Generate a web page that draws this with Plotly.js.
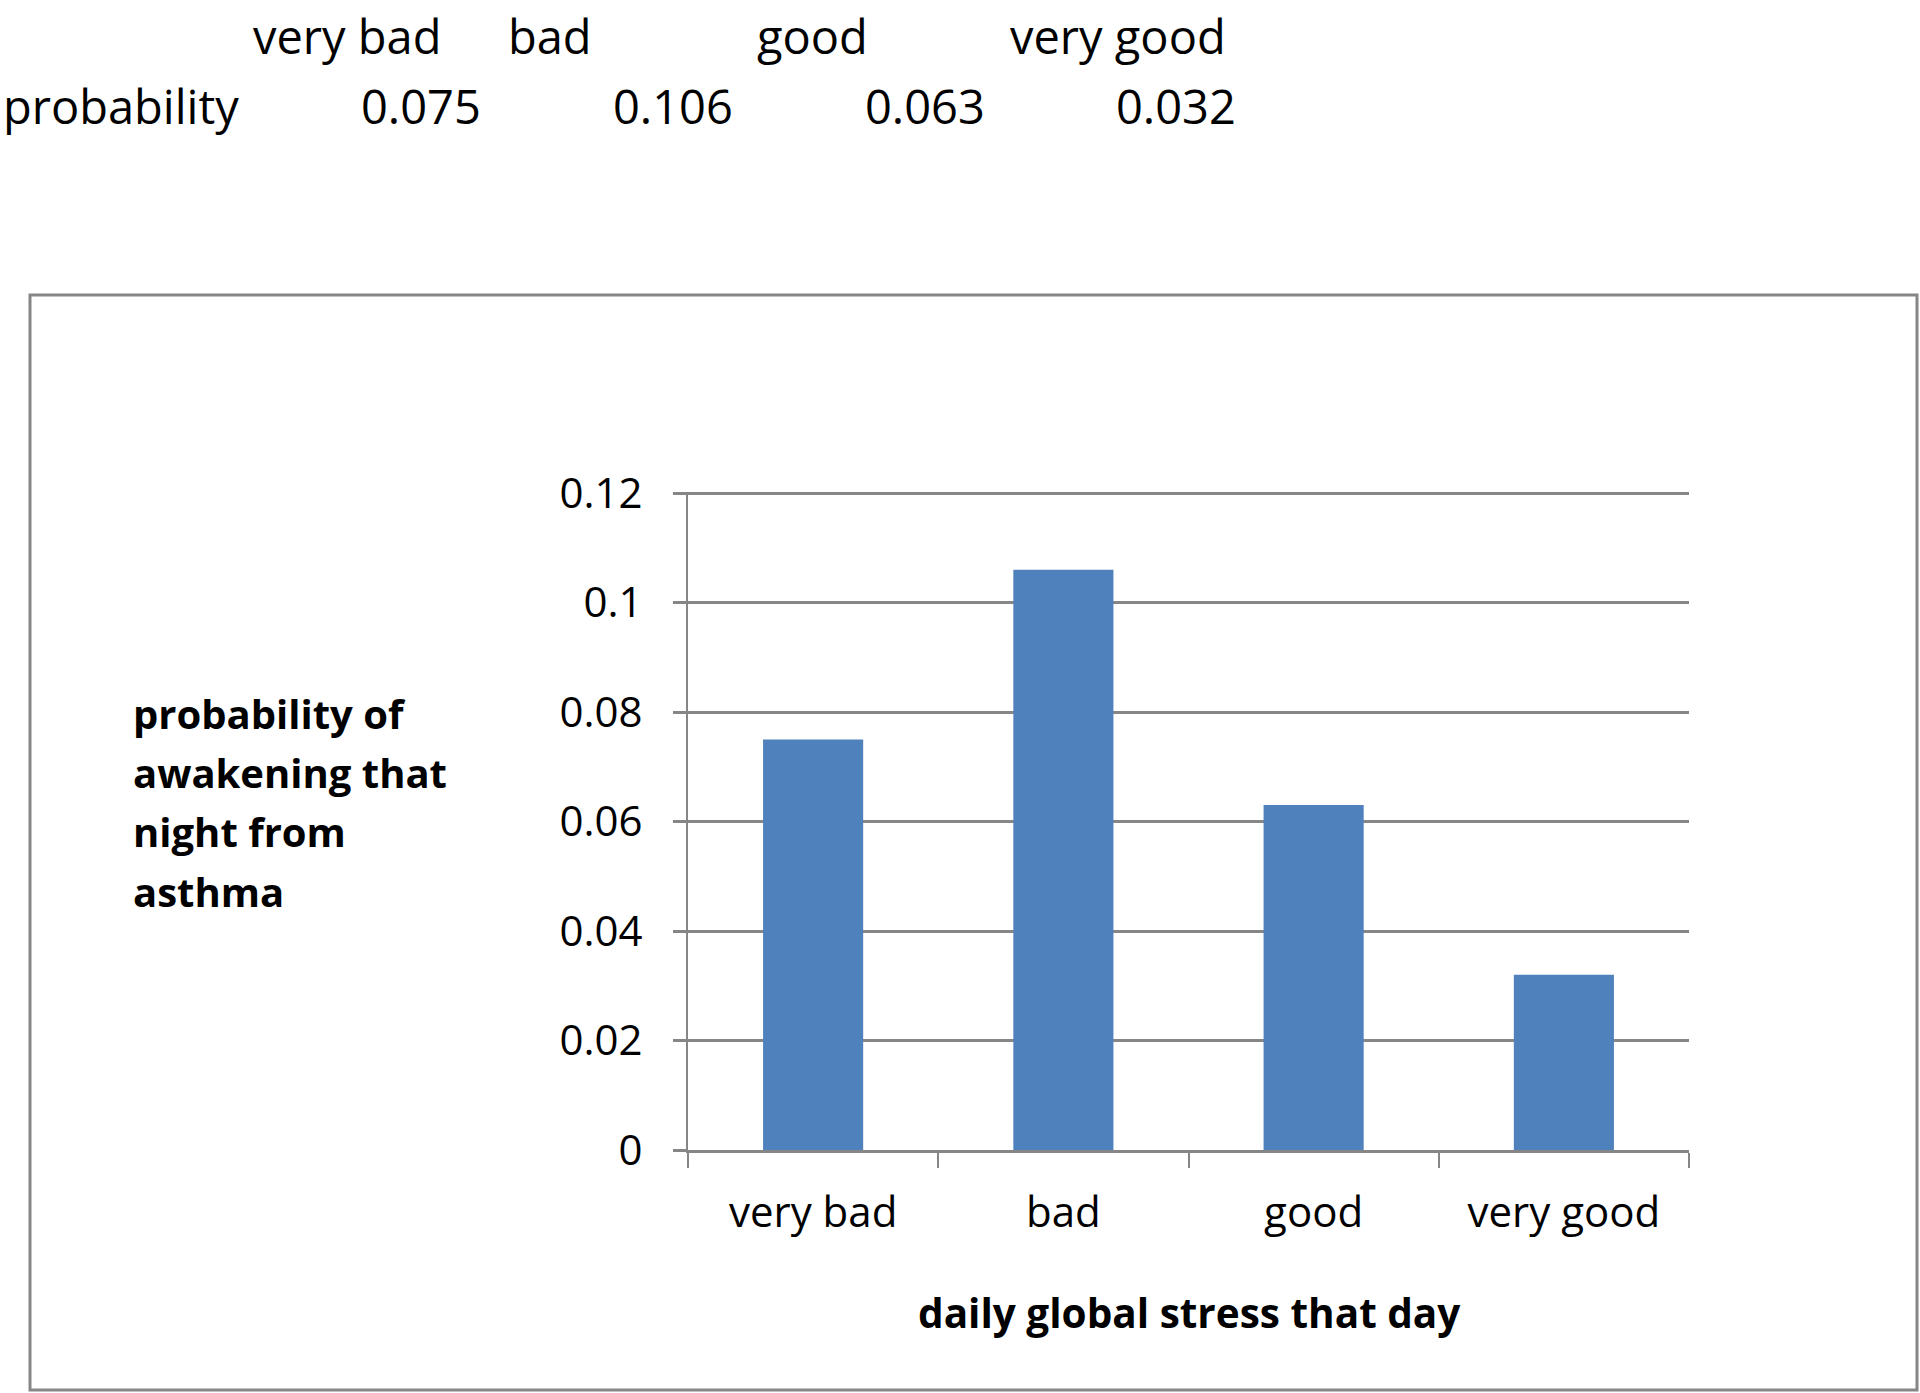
<!DOCTYPE html>
<html>
<head>
<meta charset="utf-8">
<script src="https://cdn.plot.ly/plotly-3.0.1.min.js"></script>
<style>
  html, body { margin: 0; padding: 0; background: #ffffff; }
  #chart { width: 1920px; height: 1393px; }
</style>
</head>
<body>
<div id="chart"></div>
<script>
// ---- data ----
const categories = ["very bad", "bad", "good", "very good"];
const probabilities = [0.075, 0.106, 0.063, 0.032];
const rowLabel = "probability";
const yTickVals = [0, 0.02, 0.04, 0.06, 0.08, 0.1, 0.12];
const yTickText = ["0", "0.02", "0.04", "0.06", "0.08", "0.1", "0.12"];
const yTitleLines = ["probability of", "awakening that", "night from", "asthma"];
const xTitle = "daily global stress that day";

// ---- layout helpers (pixel -> paper) ----
const W = 1920, H = 1393;
const plotL = 688, plotR = 1689, plotT = 492, plotB = 1150;
const px = x => (x - plotL) / (plotR - plotL);
const py = y => (plotB - y) / (plotB - plotT);

const FONT = "'Open Sans', 'Noto Sans', sans-serif";
const GRID = "#868686";

const annotations = [];
// Top spreadsheet-like table
const headerLeft = [251, 506, 755, 1008];
categories.forEach((c, i) => {
  annotations.push({xref: "paper", yref: "paper", x: px(headerLeft[i]), y: py(36),
    xanchor: "left", yanchor: "middle", text: c, showarrow: false,
    font: {family: FONT, size: 47, color: "#000"}});
});
annotations.push({xref: "paper", yref: "paper", x: px(1), y: py(106),
  xanchor: "left", yanchor: "middle", text: rowLabel, showarrow: false,
  font: {family: FONT, size: 47, color: "#000"}});
const valueRight = [483, 735, 987, 1238];
probabilities.forEach((v, i) => {
  annotations.push({xref: "paper", yref: "paper", x: px(valueRight[i]), y: py(106),
    xanchor: "right", yanchor: "middle", text: v.toFixed(3), showarrow: false,
    font: {family: FONT, size: 47, color: "#000"}});
});
// Y title (one annotation per line to match spacing)
const yTitleY = [713, 772, 831, 891];
yTitleLines.forEach((t, i) => {
  annotations.push({xref: "paper", yref: "paper", x: px(131), y: py(yTitleY[i]),
    xanchor: "left", yanchor: "middle", text: "<b>" + t + "</b>", showarrow: false,
    font: {family: FONT, size: 40, color: "#000"}});
});
// X title
annotations.push({xref: "paper", yref: "paper", x: px(1189), y: py(1312),
  xanchor: "center", yanchor: "middle", text: "<b>" + xTitle + "</b>", showarrow: false,
  font: {family: FONT, size: 40.5, color: "#000"}});

const trace = {
  type: "bar",
  x: categories,
  y: probabilities,
  width: 0.4,
  marker: {color: "#4F81BD", line: {width: 0}},
  hoverinfo: "x+y"
};

const layout = {
  width: W, height: H,
  margin: {l: plotL, r: W - plotR, t: plotT, b: H - plotB, pad: 0},
  paper_bgcolor: "#ffffff",
  plot_bgcolor: "#ffffff",
  showlegend: false,
  font: {family: FONT, color: "#000"},
  xaxis: {
    type: "category",
    range: [-0.5, 3.5],
    showline: true, linecolor: GRID, linewidth: 3,
    ticks: "outside", tickson: "boundaries", ticklen: 15, tickcolor: GRID, tickwidth: 2,
    showgrid: false, zeroline: false,
    tickfont: {family: FONT, size: 42, color: "#000"},
    ticklabelstandoff: 24,
    fixedrange: true
  },
  yaxis: {
    range: [0, 0.1202],
    tickvals: yTickVals, ticktext: yTickText,
    showline: true, linecolor: GRID, linewidth: 2,
    ticks: "outside", ticklen: 13, tickcolor: GRID, tickwidth: 3,
    showgrid: true, gridcolor: GRID, gridwidth: 3,
    zeroline: false,
    tickfont: {family: FONT, size: 42, color: "#000"},
    ticklabelstandoff: 22,
    fixedrange: true
  },
  annotations: annotations,
  shapes: [{
    type: "rect", xref: "paper", yref: "paper",
    x0: px(30), x1: px(1917), y0: py(1390), y1: py(295),
    line: {color: GRID, width: 3}, fillcolor: "rgba(0,0,0,0)", layer: "below"
  }]
};

Plotly.newPlot("chart", [trace], layout, {displayModeBar: false, staticPlot: true});
</script>
</body>
</html>
